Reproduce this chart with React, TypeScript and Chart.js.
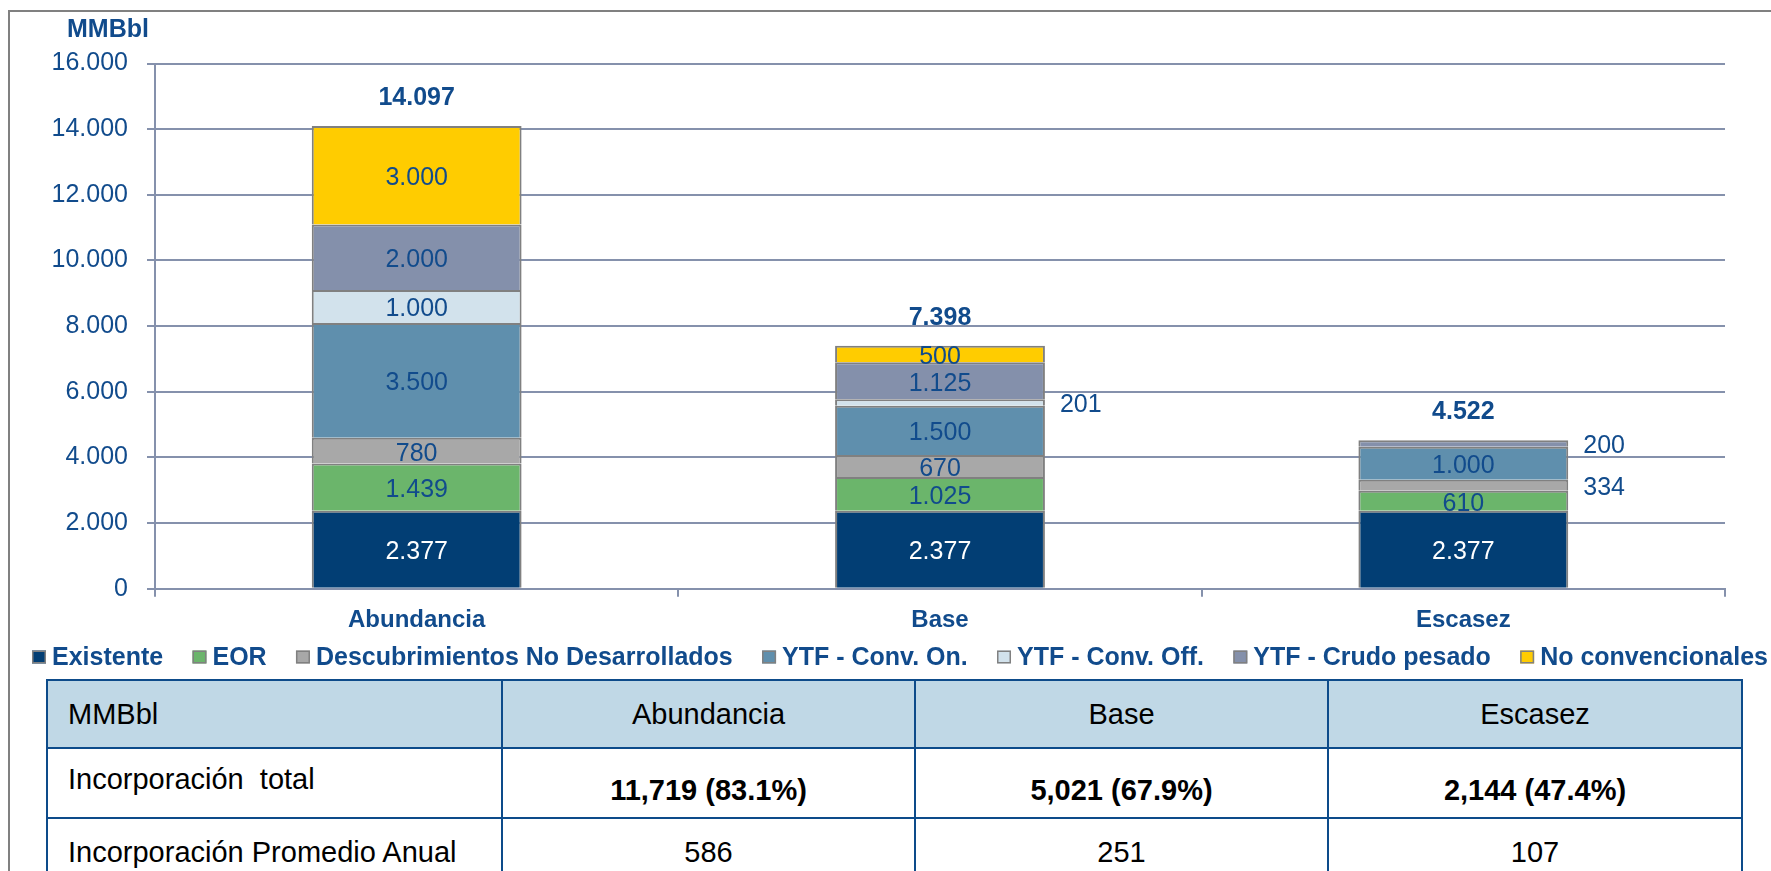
import React, { useEffect, useRef } from "react";
import { Chart, registerables } from "chart.js";

Chart.register(...registerables);

// ---------- data ----------
const categories = ["Abundancia", "Base", "Escasez"];
const seriesNames = [
  "Existente",
  "EOR",
  "Descubrimientos No Desarrollados",
  "YTF - Conv. On.",
  "YTF - Conv. Off.",
  "YTF - Crudo pesado",
  "No convencionales",
];
const existente = [2377, 2377, 2377];
const eor = [1439, 1025, 610];
const descubrimientos = [780, 670, 334];
const ytfConvOn = [3500, 1500, 1000];
const ytfConvOff = [1000, 201, 0];
const ytfCrudoPesado = [2000, 1125, 200];
const noConvencionales = [3000, 500, 0];
const totals = [14097, 7398, 4522];
const yMin = 0;
const yMax = 16000;
const yStep = 2000;
const axisTitle = "MMBbl";

const tableHeader = ["MMBbl", "Abundancia", "Base", "Escasez"];
const rowTotalLabel = "Incorporación  total";
const rowTotalValues = ["11,719 (83.1%)", "5,021 (67.9%)", "2,144 (47.4%)"];
const rowAnnualLabel = "Incorporación Promedio Anual";
const rowAnnualValues = ["586", "251", "107"];

// ---------- styles ----------
const seriesData = [existente, eor, descubrimientos, ytfConvOn, ytfConvOff, ytfCrudoPesado, noConvencionales];
const seriesColors = ["#023E74", "#6BB56B", "#A8A8A8", "#5F8FAD", "#D2E2EC", "#8490AB", "#FFCC00"];
const FONT = "'Liberation Sans', Arial, Helvetica, sans-serif";
const BLUE = "#114B8C";
const GRID = "#8591AC";
const BAR_BORDER = "#808080";

const fmt = (v: number) => String(Math.round(v)).replace(/\B(?=(\d{3})+(?!\d))/g, ".");

const overlayPlugin = {
  id: "overlay",
  afterDatasetsDraw(chart: any) {
    const ctx = chart.ctx as CanvasRenderingContext2D;
    ctx.save();
    ctx.textBaseline = "middle";
    // segment labels
    chart.data.datasets.forEach((ds: any, di: number) => {
      const meta = chart.getDatasetMeta(di);
      meta.data.forEach((el: any, i: number) => {
        const v = ds.data[i];
        if (!v) return;
        const p = el.getProps(["x", "y", "base", "width"], true);
        const cy = (p.y + p.base) / 2;
        ctx.font = `25px ${FONT}`;
        if (v < 400) {
          ctx.textAlign = "left";
          ctx.fillStyle = BLUE;
          ctx.fillText(fmt(v), p.x + p.width / 2 + 15, cy + 3);
        } else {
          ctx.textAlign = "center";
          ctx.fillStyle = di === 0 ? "#FFFFFF" : BLUE;
          ctx.fillText(fmt(v), p.x, cy + 3);
        }
      });
    });
    // totals
    for (let i = 0; i < chart.data.labels.length; i++) {
      let top = Infinity;
      let cx = 0;
      chart.data.datasets.forEach((ds: any, di: number) => {
        const el = chart.getDatasetMeta(di).data[i] as any;
        if (el && ds.data[i]) {
          top = Math.min(top, el.y);
          cx = el.x;
        }
      });
      ctx.font = `bold 25px ${FONT}`;
      ctx.textAlign = "center";
      ctx.fillStyle = BLUE;
      ctx.fillText(fmt(totals[i]), cx, top - 28);
    }
    ctx.restore();
  },
  afterDraw(chart: any) {
    const ctx = chart.ctx as CanvasRenderingContext2D;
    ctx.save();
    ctx.textBaseline = "middle";
    ctx.fillStyle = BLUE;
    ctx.font = `bold 25px ${FONT}`;
    ctx.textAlign = "left";
    ctx.fillText(axisTitle, 57, 18);
    // legend
    const startX = 22;
    const endX = 1758;
    const ly = 645;
    const boxW = 14;
    const boxH = 13;
    const textOff = 20;
    const widths = seriesNames.map((n) => ctx.measureText(n).width);
    const used = widths.reduce((a, b) => a + b + textOff, 0);
    const gap = (endX - startX - used) / (seriesNames.length - 1);
    let x = startX;
    seriesNames.forEach((n, i) => {
      ctx.fillStyle = seriesColors[i];
      ctx.fillRect(x, ly - boxH / 2, boxW, boxH);
      ctx.strokeStyle = BAR_BORDER;
      ctx.lineWidth = 1.5;
      ctx.strokeRect(x + 0.75, ly - boxH / 2 + 0.75, boxW - 1.5, boxH - 1.5);
      ctx.fillStyle = BLUE;
      ctx.fillText(n, x + textOff, ly + 1);
      x += textOff + widths[i] + gap;
    });
    ctx.restore();
  },
};

export default function App() {
  const ref = useRef<HTMLCanvasElement | null>(null);
  useEffect(() => {
    if (!ref.current) return;
    const chart = new Chart(ref.current, {
      type: "bar",
      data: {
        labels: categories,
        datasets: seriesNames.map((name, i) => ({
          label: name,
          data: seriesData[i],
          backgroundColor: seriesColors[i],
          borderColor: BAR_BORDER,
          borderWidth: 2,
          categoryPercentage: 0.5,
          barPercentage: 0.802,
        })),
      },
      options: {
        responsive: false,
        animation: false,
        layout: { padding: { top: 51.5, right: 46, bottom: 36.5, left: 0 } },
        plugins: { legend: { display: false }, tooltip: { enabled: false }, title: { display: false } },
        scales: {
          x: {
            stacked: true,
            grid: { display: true, offset: true, drawOnChartArea: false, tickLength: 8, color: GRID, lineWidth: 2 },
            border: { display: true, color: GRID, width: 2 },
            ticks: { padding: 9, color: BLUE, font: { family: FONT, size: 24, weight: "bold" } },
          },
          y: {
            stacked: true,
            min: yMin,
            max: yMax,
            grid: { color: GRID, lineWidth: 2, tickLength: 8 },
            border: { display: true, color: GRID, width: 2 },
            ticks: {
              stepSize: yStep,
              padding: 19,
              color: BLUE,
              font: { family: FONT, size: 25 },
              callback: (v: any) => fmt(Number(v)),
            },
            afterFit: (s: any) => {
              s.width = 145;
            },
          },
        },
      },
      plugins: [overlayPlugin],
    } as any);
    return () => chart.destroy();
  }, []);

  const cellBorder = "2.5px solid #0D4B8A";
  const td: React.CSSProperties = { border: cellBorder, textAlign: "center", verticalAlign: "middle", padding: 0 };
  return (
    <div style={{ position: "fixed", left: 0, top: 0, width: 1771, height: 871, overflow: "hidden", background: "#fff" }}>
      <div
        style={{
          position: "absolute",
          left: 8,
          top: 10,
          width: 1800,
          height: 900,
          borderTop: "2px solid #808080",
          borderLeft: "2px solid #808080",
          boxSizing: "border-box",
        }}
      />
      <div style={{ position: "absolute", left: 10, top: 12, width: 1761, height: 668 }}>
        <canvas ref={ref} width={1761} height={668} />
      </div>
      <table
        style={{
          position: "absolute",
          left: 46,
          top: 679,
          width: 1695,
          borderCollapse: "collapse",
          tableLayout: "fixed",
          fontFamily: FONT,
          fontSize: 29,
          color: "#000",
          background: "#fff",
        }}
      >
        <colgroup>
          <col style={{ width: 455 }} />
          <col style={{ width: 413 }} />
          <col style={{ width: 413 }} />
          <col style={{ width: 414 }} />
        </colgroup>
        <tbody>
          <tr style={{ height: 68, background: "#C0D8E6" }}>
            {tableHeader.map((h, i) => (
              <td key={h} style={{ ...td, textAlign: i === 0 ? "left" : "center", paddingLeft: i === 0 ? 20 : 0 }}>
                {h}
              </td>
            ))}
          </tr>
          <tr style={{ height: 70 }}>
            <td style={{ ...td, textAlign: "left", paddingLeft: 20, paddingBottom: 8, whiteSpace: "pre" }}>{rowTotalLabel}</td>
            {rowTotalValues.map((v) => (
              <td key={v} style={{ ...td, fontWeight: "bold", paddingTop: 14 }}>
                {v}
              </td>
            ))}
          </tr>
          <tr style={{ height: 68 }}>
            <td style={{ ...td, textAlign: "left", paddingLeft: 20 }}>{rowAnnualLabel}</td>
            {rowAnnualValues.map((v) => (
              <td key={v} style={td}>
                {v}
              </td>
            ))}
          </tr>
        </tbody>
      </table>
    </div>
  );
}
